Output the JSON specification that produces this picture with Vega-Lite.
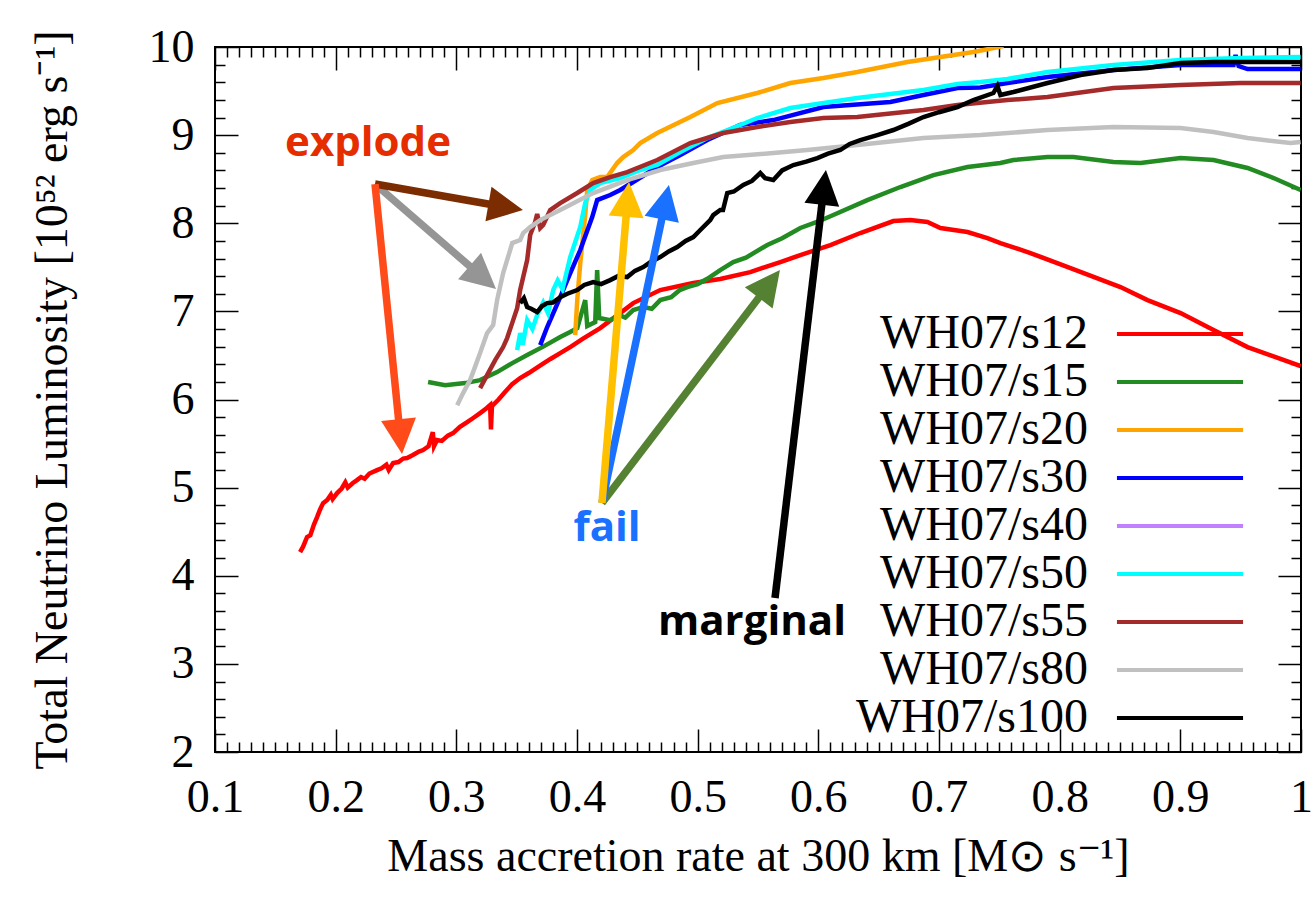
{
  "$schema": "https://vega.github.io/schema/vega-lite/v6.json",
  "width": 1086,
  "height": 705,
  "autosize": {"type": "none"},
  "padding": {"left": 215, "top": 47, "right": 15, "bottom": 149},
  "background": "white",
  "config": {"view": {"stroke": "black", "strokeWidth": 2}},
  "datasets": {
    "series": [
      {"s":"WH07/s12","x":0.1705,"y":4.268},{"s":"WH07/s12","x":0.173,"y":4.33},{"s":"WH07/s12","x":0.1763,"y":4.44},{"s":"WH07/s12","x":0.179,"y":4.46},{"s":"WH07/s12","x":0.182,"y":4.58},{"s":"WH07/s12","x":0.1846,"y":4.665},{"s":"WH07/s12","x":0.187,"y":4.75},{"s":"WH07/s12","x":0.1896,"y":4.824},{"s":"WH07/s12","x":0.193,"y":4.86},{"s":"WH07/s12","x":0.196,"y":4.92},{"s":"WH07/s12","x":0.1975,"y":4.87},{"s":"WH07/s12","x":0.2012,"y":4.938},{"s":"WH07/s12","x":0.205,"y":4.99},{"s":"WH07/s12","x":0.208,"y":5.06},{"s":"WH07/s12","x":0.21,"y":5.0},{"s":"WH07/s12","x":0.214,"y":5.05},{"s":"WH07/s12","x":0.2177,"y":5.085},{"s":"WH07/s12","x":0.221,"y":5.12},{"s":"WH07/s12","x":0.224,"y":5.1},{"s":"WH07/s12","x":0.228,"y":5.16},{"s":"WH07/s12","x":0.2343,"y":5.199},{"s":"WH07/s12","x":0.238,"y":5.22},{"s":"WH07/s12","x":0.242,"y":5.26},{"s":"WH07/s12","x":0.244,"y":5.2},{"s":"WH07/s12","x":0.2476,"y":5.278},{"s":"WH07/s12","x":0.252,"y":5.29},{"s":"WH07/s12","x":0.256,"y":5.33},{"s":"WH07/s12","x":0.2592,"y":5.335},{"s":"WH07/s12","x":0.264,"y":5.37},{"s":"WH07/s12","x":0.269,"y":5.41},{"s":"WH07/s12","x":0.2725,"y":5.426},{"s":"WH07/s12","x":0.277,"y":5.47},{"s":"WH07/s12","x":0.2805,"y":5.63},{"s":"WH07/s12","x":0.2815,"y":5.47},{"s":"WH07/s12","x":0.284,"y":5.54},{"s":"WH07/s12","x":0.288,"y":5.53},{"s":"WH07/s12","x":0.293,"y":5.59},{"s":"WH07/s12","x":0.2973,"y":5.619},{"s":"WH07/s12","x":0.303,"y":5.69},{"s":"WH07/s12","x":0.309,"y":5.743},{"s":"WH07/s12","x":0.314,"y":5.79},{"s":"WH07/s12","x":0.3197,"y":5.846},{"s":"WH07/s12","x":0.325,"y":5.9},{"s":"WH07/s12","x":0.328,"y":5.936},{"s":"WH07/s12","x":0.3287,"y":5.66},{"s":"WH07/s12","x":0.3295,"y":5.925},{"s":"WH07/s12","x":0.335,"y":6.0},{"s":"WH07/s12","x":0.34,"y":6.08},{"s":"WH07/s12","x":0.346,"y":6.17},{"s":"WH07/s12","x":0.3529,"y":6.243},{"s":"WH07/s12","x":0.36,"y":6.3},{"s":"WH07/s12","x":0.37,"y":6.39},{"s":"WH07/s12","x":0.378,"y":6.46},{"s":"WH07/s12","x":0.3861,"y":6.527},{"s":"WH07/s12","x":0.395,"y":6.6},{"s":"WH07/s12","x":0.405,"y":6.69},{"s":"WH07/s12","x":0.4192,"y":6.81},{"s":"WH07/s12","x":0.43,"y":6.92},{"s":"WH07/s12","x":0.4466,"y":7.094},{"s":"WH07/s12","x":0.469,"y":7.242},{"s":"WH07/s12","x":0.4964,"y":7.321},{"s":"WH07/s12","x":0.5187,"y":7.367},{"s":"WH07/s12","x":0.5436,"y":7.446},{"s":"WH07/s12","x":0.5685,"y":7.56},{"s":"WH07/s12","x":0.5851,"y":7.639},{"s":"WH07/s12","x":0.61,"y":7.753},{"s":"WH07/s12","x":0.6348,"y":7.889},{"s":"WH07/s12","x":0.6622,"y":8.025},{"s":"WH07/s12","x":0.6763,"y":8.036},{"s":"WH07/s12","x":0.6904,"y":8.014},{"s":"WH07/s12","x":0.7012,"y":7.946},{"s":"WH07/s12","x":0.7236,"y":7.9},{"s":"WH07/s12","x":0.7401,"y":7.832},{"s":"WH07/s12","x":0.7509,"y":7.775},{"s":"WH07/s12","x":0.7758,"y":7.662},{"s":"WH07/s12","x":0.809,"y":7.492},{"s":"WH07/s12","x":0.8504,"y":7.276},{"s":"WH07/s12","x":0.8728,"y":7.128},{"s":"WH07/s12","x":0.9002,"y":6.981},{"s":"WH07/s12","x":0.9275,"y":6.788},{"s":"WH07/s12","x":0.9557,"y":6.595},{"s":"WH07/s12","x":0.9997,"y":6.379},
      {"s":"WH07/s15","x":0.2766,"y":6.198},{"s":"WH07/s15","x":0.2907,"y":6.163},{"s":"WH07/s15","x":0.3073,"y":6.186},{"s":"WH07/s15","x":0.3197,"y":6.22},{"s":"WH07/s15","x":0.3338,"y":6.311},{"s":"WH07/s15","x":0.346,"y":6.41},{"s":"WH07/s15","x":0.3587,"y":6.504},{"s":"WH07/s15","x":0.372,"y":6.6},{"s":"WH07/s15","x":0.3861,"y":6.708},{"s":"WH07/s15","x":0.3935,"y":6.76},{"s":"WH07/s15","x":0.4002,"y":6.81},{"s":"WH07/s15","x":0.4068,"y":7.128},{"s":"WH07/s15","x":0.4085,"y":6.833},{"s":"WH07/s15","x":0.4151,"y":6.879},{"s":"WH07/s15","x":0.4167,"y":7.469},{"s":"WH07/s15","x":0.4184,"y":6.924},{"s":"WH07/s15","x":0.4275,"y":6.901},{"s":"WH07/s15","x":0.435,"y":6.96},{"s":"WH07/s15","x":0.44,"y":6.93},{"s":"WH07/s15","x":0.4466,"y":7.015},{"s":"WH07/s15","x":0.455,"y":7.05},{"s":"WH07/s15","x":0.462,"y":7.03},{"s":"WH07/s15","x":0.469,"y":7.128},{"s":"WH07/s15","x":0.478,"y":7.16},{"s":"WH07/s15","x":0.485,"y":7.24},{"s":"WH07/s15","x":0.4914,"y":7.276},{"s":"WH07/s15","x":0.5,"y":7.31},{"s":"WH07/s15","x":0.508,"y":7.37},{"s":"WH07/s15","x":0.5187,"y":7.469},{"s":"WH07/s15","x":0.5295,"y":7.56},{"s":"WH07/s15","x":0.54,"y":7.61},{"s":"WH07/s15","x":0.5577,"y":7.753},{"s":"WH07/s15","x":0.57,"y":7.83},{"s":"WH07/s15","x":0.5851,"y":7.946},{"s":"WH07/s15","x":0.6,"y":8.02},{"s":"WH07/s15","x":0.6124,"y":8.093},{"s":"WH07/s15","x":0.6406,"y":8.263},{"s":"WH07/s15","x":0.668,"y":8.411},{"s":"WH07/s15","x":0.6954,"y":8.547},{"s":"WH07/s15","x":0.7236,"y":8.638},{"s":"WH07/s15","x":0.7509,"y":8.683},{"s":"WH07/s15","x":0.7617,"y":8.717},{"s":"WH07/s15","x":0.7899,"y":8.751},{"s":"WH07/s15","x":0.8114,"y":8.751},{"s":"WH07/s15","x":0.8446,"y":8.695},{"s":"WH07/s15","x":0.867,"y":8.683},{"s":"WH07/s15","x":0.9002,"y":8.74},{"s":"WH07/s15","x":0.9275,"y":8.717},{"s":"WH07/s15","x":0.9557,"y":8.627},{"s":"WH07/s15","x":0.9773,"y":8.513},{"s":"WH07/s15","x":0.9997,"y":8.377},
      {"s":"WH07/s20","x":0.3985,"y":6.731},{"s":"WH07/s20","x":0.4002,"y":7.128},{"s":"WH07/s20","x":0.4027,"y":7.548},{"s":"WH07/s20","x":0.4068,"y":8.093},{"s":"WH07/s20","x":0.4085,"y":8.377},{"s":"WH07/s20","x":0.4126,"y":8.49},{"s":"WH07/s20","x":0.4192,"y":8.524},{"s":"WH07/s20","x":0.425,"y":8.524},{"s":"WH07/s20","x":0.4333,"y":8.683},{"s":"WH07/s20","x":0.4383,"y":8.751},{"s":"WH07/s20","x":0.4466,"y":8.831},{"s":"WH07/s20","x":0.4524,"y":8.91},{"s":"WH07/s20","x":0.4665,"y":9.024},{"s":"WH07/s20","x":0.4939,"y":9.205},{"s":"WH07/s20","x":0.5163,"y":9.364},{"s":"WH07/s20","x":0.5494,"y":9.478},{"s":"WH07/s20","x":0.5768,"y":9.591},{"s":"WH07/s20","x":0.6042,"y":9.648},{"s":"WH07/s20","x":0.6323,"y":9.716},{"s":"WH07/s20","x":0.6738,"y":9.83},{"s":"WH07/s20","x":0.7012,"y":9.886},{"s":"WH07/s20","x":0.7285,"y":9.943},{"s":"WH07/s20","x":0.7534,"y":10.01},
      {"s":"WH07/s30","x":0.3695,"y":6.617},{"s":"WH07/s30","x":0.3753,"y":6.822},{"s":"WH07/s30","x":0.3861,"y":7.162},{"s":"WH07/s30","x":0.3944,"y":7.435},{"s":"WH07/s30","x":0.4027,"y":7.696},{"s":"WH07/s30","x":0.4126,"y":8.07},{"s":"WH07/s30","x":0.4167,"y":8.263},{"s":"WH07/s30","x":0.4275,"y":8.32},{"s":"WH07/s30","x":0.4358,"y":8.377},{"s":"WH07/s30","x":0.4466,"y":8.468},{"s":"WH07/s30","x":0.4665,"y":8.638},{"s":"WH07/s30","x":0.4856,"y":8.774},{"s":"WH07/s30","x":0.508,"y":8.944},{"s":"WH07/s30","x":0.5353,"y":9.115},{"s":"WH07/s30","x":0.5627,"y":9.171},{"s":"WH07/s30","x":0.6042,"y":9.319},{"s":"WH07/s30","x":0.6597,"y":9.376},{"s":"WH07/s30","x":0.6871,"y":9.455},{"s":"WH07/s30","x":0.7153,"y":9.535},{"s":"WH07/s30","x":0.7343,"y":9.54},{"s":"WH07/s30","x":0.7567,"y":9.591},{"s":"WH07/s30","x":0.7899,"y":9.659},{"s":"WH07/s30","x":0.8446,"y":9.739},{"s":"WH07/s30","x":0.9002,"y":9.796},{"s":"WH07/s30","x":0.9441,"y":9.796},{"s":"WH07/s30","x":0.9458,"y":9.909},{"s":"WH07/s30","x":0.9483,"y":9.784},{"s":"WH07/s30","x":0.9557,"y":9.75},{"s":"WH07/s30","x":0.9997,"y":9.75},
      {"s":"WH07/s50","x":0.3504,"y":6.561},{"s":"WH07/s50","x":0.3529,"y":6.754},{"s":"WH07/s50","x":0.355,"y":6.62},{"s":"WH07/s50","x":0.3587,"y":6.901},{"s":"WH07/s50","x":0.363,"y":6.8},{"s":"WH07/s50","x":0.367,"y":6.958},{"s":"WH07/s50","x":0.372,"y":7.1},{"s":"WH07/s50","x":0.376,"y":6.98},{"s":"WH07/s50","x":0.3803,"y":7.242},{"s":"WH07/s50","x":0.384,"y":7.35},{"s":"WH07/s50","x":0.388,"y":7.25},{"s":"WH07/s50","x":0.3944,"y":7.616},{"s":"WH07/s50","x":0.4027,"y":7.957},{"s":"WH07/s50","x":0.4068,"y":8.229},{"s":"WH07/s50","x":0.4109,"y":8.377},{"s":"WH07/s50","x":0.4192,"y":8.456},{"s":"WH07/s50","x":0.4358,"y":8.513},{"s":"WH07/s50","x":0.4524,"y":8.604},{"s":"WH07/s50","x":0.4665,"y":8.661},{"s":"WH07/s50","x":0.4856,"y":8.808},{"s":"WH07/s50","x":0.508,"y":8.967},{"s":"WH07/s50","x":0.5353,"y":9.115},{"s":"WH07/s50","x":0.5494,"y":9.194},{"s":"WH07/s50","x":0.5768,"y":9.308},{"s":"WH07/s50","x":0.6323,"y":9.421},{"s":"WH07/s50","x":0.6871,"y":9.512},{"s":"WH07/s50","x":0.7153,"y":9.58},{"s":"WH07/s50","x":0.7343,"y":9.603},{"s":"WH07/s50","x":0.7567,"y":9.637},{"s":"WH07/s50","x":0.7899,"y":9.716},{"s":"WH07/s50","x":0.8446,"y":9.796},{"s":"WH07/s50","x":0.9002,"y":9.852},{"s":"WH07/s50","x":0.9499,"y":9.875},{"s":"WH07/s50","x":0.9997,"y":9.886},
      {"s":"WH07/s55","x":0.3197,"y":6.129},{"s":"WH07/s55","x":0.3255,"y":6.277},{"s":"WH07/s55","x":0.3322,"y":6.447},{"s":"WH07/s55","x":0.3388,"y":6.595},{"s":"WH07/s55","x":0.3421,"y":6.697},{"s":"WH07/s55","x":0.3471,"y":6.901},{"s":"WH07/s55","x":0.3504,"y":7.037},{"s":"WH07/s55","x":0.3529,"y":7.242},{"s":"WH07/s55","x":0.3587,"y":7.582},{"s":"WH07/s55","x":0.3612,"y":7.866},{"s":"WH07/s55","x":0.3653,"y":8.014},{"s":"WH07/s55","x":0.367,"y":8.104},{"s":"WH07/s55","x":0.3695,"y":7.946},{"s":"WH07/s55","x":0.372,"y":7.98},{"s":"WH07/s55","x":0.3778,"y":8.15},{"s":"WH07/s55","x":0.3861,"y":8.229},{"s":"WH07/s55","x":0.4002,"y":8.343},{"s":"WH07/s55","x":0.4134,"y":8.456},{"s":"WH07/s55","x":0.4275,"y":8.524},{"s":"WH07/s55","x":0.4416,"y":8.581},{"s":"WH07/s55","x":0.4665,"y":8.717},{"s":"WH07/s55","x":0.4939,"y":8.91},{"s":"WH07/s55","x":0.5212,"y":9.024},{"s":"WH07/s55","x":0.5494,"y":9.092},{"s":"WH07/s55","x":0.5768,"y":9.149},{"s":"WH07/s55","x":0.6042,"y":9.194},{"s":"WH07/s55","x":0.6323,"y":9.205},{"s":"WH07/s55","x":0.6871,"y":9.285},{"s":"WH07/s55","x":0.7153,"y":9.342},{"s":"WH07/s55","x":0.7567,"y":9.398},{"s":"WH07/s55","x":0.7899,"y":9.432},{"s":"WH07/s55","x":0.8446,"y":9.535},{"s":"WH07/s55","x":0.9002,"y":9.569},{"s":"WH07/s55","x":0.9499,"y":9.591},{"s":"WH07/s55","x":0.9997,"y":9.591},
      {"s":"WH07/s80","x":0.3007,"y":5.936},{"s":"WH07/s80","x":0.3056,"y":6.073},{"s":"WH07/s80","x":0.3114,"y":6.22},{"s":"WH07/s80","x":0.3139,"y":6.311},{"s":"WH07/s80","x":0.3197,"y":6.527},{"s":"WH07/s80","x":0.3255,"y":6.754},{"s":"WH07/s80","x":0.3305,"y":6.844},{"s":"WH07/s80","x":0.3338,"y":7.128},{"s":"WH07/s80","x":0.3388,"y":7.435},{"s":"WH07/s80","x":0.3446,"y":7.696},{"s":"WH07/s80","x":0.3463,"y":7.775},{"s":"WH07/s80","x":0.3529,"y":7.809},{"s":"WH07/s80","x":0.3554,"y":7.889},{"s":"WH07/s80","x":0.3612,"y":7.957},{"s":"WH07/s80","x":0.3695,"y":8.036},{"s":"WH07/s80","x":0.3861,"y":8.15},{"s":"WH07/s80","x":0.4134,"y":8.343},{"s":"WH07/s80","x":0.4416,"y":8.49},{"s":"WH07/s80","x":0.469,"y":8.604},{"s":"WH07/s80","x":0.4964,"y":8.683},{"s":"WH07/s80","x":0.5212,"y":8.751},{"s":"WH07/s80","x":0.5627,"y":8.797},{"s":"WH07/s80","x":0.5909,"y":8.831},{"s":"WH07/s80","x":0.6323,"y":8.888},{"s":"WH07/s80","x":0.6871,"y":8.967},{"s":"WH07/s80","x":0.7343,"y":9.001},{"s":"WH07/s80","x":0.7899,"y":9.058},{"s":"WH07/s80","x":0.8446,"y":9.092},{"s":"WH07/s80","x":0.9002,"y":9.081},{"s":"WH07/s80","x":0.9275,"y":9.035},{"s":"WH07/s80","x":0.9557,"y":8.967},{"s":"WH07/s80","x":0.9913,"y":8.91},{"s":"WH07/s80","x":0.9997,"y":8.922},
      {"s":"WH07/s100","x":0.3529,"y":7.094},{"s":"WH07/s100","x":0.356,"y":7.15},{"s":"WH07/s100","x":0.3587,"y":7.049},{"s":"WH07/s100","x":0.362,"y":7.03},{"s":"WH07/s100","x":0.367,"y":6.992},{"s":"WH07/s100","x":0.371,"y":7.06},{"s":"WH07/s100","x":0.3753,"y":7.094},{"s":"WH07/s100","x":0.38,"y":7.1},{"s":"WH07/s100","x":0.3861,"y":7.162},{"s":"WH07/s100","x":0.392,"y":7.2},{"s":"WH07/s100","x":0.4002,"y":7.242},{"s":"WH07/s100","x":0.406,"y":7.3},{"s":"WH07/s100","x":0.4134,"y":7.333},{"s":"WH07/s100","x":0.42,"y":7.31},{"s":"WH07/s100","x":0.4275,"y":7.355},{"s":"WH07/s100","x":0.434,"y":7.4},{"s":"WH07/s100","x":0.4416,"y":7.389},{"s":"WH07/s100","x":0.448,"y":7.46},{"s":"WH07/s100","x":0.4549,"y":7.503},{"s":"WH07/s100","x":0.461,"y":7.56},{"s":"WH07/s100","x":0.469,"y":7.616},{"s":"WH07/s100","x":0.476,"y":7.68},{"s":"WH07/s100","x":0.4831,"y":7.73},{"s":"WH07/s100","x":0.49,"y":7.8},{"s":"WH07/s100","x":0.4964,"y":7.843},{"s":"WH07/s100","x":0.5022,"y":7.923},{"s":"WH07/s100","x":0.5104,"y":8.036},{"s":"WH07/s100","x":0.5129,"y":8.093},{"s":"WH07/s100","x":0.5187,"y":8.15},{"s":"WH07/s100","x":0.521,"y":8.15},{"s":"WH07/s100","x":0.5245,"y":8.343},{"s":"WH07/s100","x":0.53,"y":8.36},{"s":"WH07/s100","x":0.5378,"y":8.434},{"s":"WH07/s100","x":0.545,"y":8.48},{"s":"WH07/s100","x":0.5519,"y":8.57},{"s":"WH07/s100","x":0.556,"y":8.51},{"s":"WH07/s100","x":0.5627,"y":8.49},{"s":"WH07/s100","x":0.57,"y":8.6},{"s":"WH07/s100","x":0.5793,"y":8.661},{"s":"WH07/s100","x":0.59,"y":8.7},{"s":"WH07/s100","x":0.5992,"y":8.74},{"s":"WH07/s100","x":0.608,"y":8.79},{"s":"WH07/s100","x":0.6182,"y":8.831},{"s":"WH07/s100","x":0.626,"y":8.9},{"s":"WH07/s100","x":0.6348,"y":8.944},{"s":"WH07/s100","x":0.6489,"y":9.001},{"s":"WH07/s100","x":0.6622,"y":9.058},{"s":"WH07/s100","x":0.675,"y":9.13},{"s":"WH07/s100","x":0.6871,"y":9.205},{"s":"WH07/s100","x":0.7,"y":9.26},{"s":"WH07/s100","x":0.7153,"y":9.319},{"s":"WH07/s100","x":0.7285,"y":9.398},{"s":"WH07/s100","x":0.7451,"y":9.478},{"s":"WH07/s100","x":0.7484,"y":9.557},{"s":"WH07/s100","x":0.7509,"y":9.455},{"s":"WH07/s100","x":0.7617,"y":9.489},{"s":"WH07/s100","x":0.7899,"y":9.591},{"s":"WH07/s100","x":0.8173,"y":9.682},{"s":"WH07/s100","x":0.8446,"y":9.739},{"s":"WH07/s100","x":0.8728,"y":9.762},{"s":"WH07/s100","x":0.9002,"y":9.818},{"s":"WH07/s100","x":0.9275,"y":9.83},{"s":"WH07/s100","x":0.9997,"y":9.83}
    ],
    "arrows": [
      {"name":"explodeGray","x0":0.2326,"y0":8.445,"x1":0.3329,"y1":7.254},
      {"name":"explodeBrown","x0":0.2326,"y0":8.445,"x1":0.3552,"y1":8.15},
      {"name":"explodeRed","x0":0.2326,"y0":8.445,"x1":0.255,"y1":5.382},
      {"name":"failGreen","x0":0.4207,"y0":4.826,"x1":0.5682,"y1":7.47},
      {"name":"failBlue","x0":0.4207,"y0":4.826,"x1":0.4762,"y1":8.434},
      {"name":"failYellow","x0":0.4207,"y0":4.826,"x1":0.4431,"y1":8.468},
      {"name":"marginal","x0":0.5641,"y0":3.747,"x1":0.6063,"y1":8.604}
    ],
    "notes": [
      {"t":"explode","x":0.2268,"y":8.911},
      {"t":"fail","x":0.4249,"y":4.542},
      {"t":"marginal","x":0.545,"y":3.475}
    ]
  },
  "resolve": {"scale": {"color": "independent"}, "axis": {"x": "independent", "y": "independent"}},
  "layer": [
    {
      "data": {"name": "series"},
      "mark": {"type": "line", "strokeWidth": 4.5, "clip": true},
      "encoding": {
        "x": {"field": "x", "type": "quantitative", "scale": {"domain": [0.1, 1], "nice": false, "zero": false},
          "axis": {"orient": "bottom", "values": [0.1,0.2,0.3,0.4,0.5,0.6,0.7,0.8,0.9,1], "format": "~g", "domain": false, "grid": false,
            "tickSize": -23, "tickWidth": 1.5, "tickColor": "#000", "labelFont": "Liberation Serif", "labelFontSize": 46, "labelColor": "#000",
            "labelPadding": 46, "labelFlush": false, "labelOverlap": false,
            "title": "Mass accretion rate at 300 km [M⊙ s⁻¹]", "titleFont": "Liberation Serif", "titleFontSize": 46, "titleFontWeight": "normal", "titleColor": "#000", "titlePadding": 14}},
        "y": {"field": "y", "type": "quantitative", "scale": {"domain": [2, 10], "nice": false, "zero": false},
          "axis": {"orient": "left", "values": [2,3,4,5,6,7,8,9,10], "format": "d", "domain": false, "grid": false,
            "tickSize": -23, "tickWidth": 1.5, "tickColor": "#000", "labelFont": "Liberation Serif", "labelFontSize": 46, "labelColor": "#000",
            "labelPadding": 44, "labelFlush": false, "labelOverlap": false,
            "title": "Total Neutrino Luminosity [10⁵² erg s⁻¹]", "titleFont": "Liberation Serif", "titleFontSize": 46, "titleFontWeight": "normal", "titleColor": "#000", "titlePadding": 72}},
        "color": {"field": "s", "type": "nominal",
          "scale": {"domain": ["WH07/s12","WH07/s15","WH07/s20","WH07/s30","WH07/s40","WH07/s50","WH07/s55","WH07/s80","WH07/s100"],
                    "range": ["#ff0000","#228b22","#ffa500","#0000ff","#c080ff","#00ffff","#a52a2a","#c0c0c0","#000000"]},
          "legend": {"orient": "none", "legendX": 941, "legendY": 263, "title": null, "padding": 0,
            "symbolType": "M-10,0H10", "symbolSize": 159, "symbolStrokeWidth": 4, "rowPadding": 0,
            "labelFont": "Liberation Serif", "labelFontSize": 48, "labelColor": "#000", "labelAlign": "right", "labelBaseline": "middle",
            "labelOffset": -116, "labelLimit": 400}}
      }
    },
    {
      "data": {"name": "arrows"},
      "transform": [
        {"calculate": "(datum.x1-datum.x0)*1206.7", "as": "dxp"},
        {"calculate": "(datum.y1-datum.y0)*88.125", "as": "dyp"},
        {"calculate": "sqrt(datum.dxp*datum.dxp+datum.dyp*datum.dyp)", "as": "len"},
        {"calculate": "datum.x1-(datum.x1-datum.x0)*28/datum.len", "as": "ex"},
        {"calculate": "datum.y1-(datum.y1-datum.y0)*28/datum.len", "as": "ey"}
      ],
      "mark": {"type": "rule", "strokeWidth": 7.5},
      "encoding": {
        "x": {"field": "x0", "type": "quantitative", "scale": {"domain": [0.1, 1], "nice": false, "zero": false},
          "axis": {"orient": "bottom", "values": [0.11,0.12,0.13,0.14,0.15,0.16,0.17,0.18,0.19,0.21,0.22,0.23,0.24,0.25,0.26,0.27,0.28,0.29,0.31,0.32,0.33,0.34,0.35,0.36,0.37,0.38,0.39,0.41,0.42,0.43,0.44,0.45,0.46,0.47,0.48,0.49,0.51,0.52,0.53,0.54,0.55,0.56,0.57,0.58,0.59,0.61,0.62,0.63,0.64,0.65,0.66,0.67,0.68,0.69,0.71,0.72,0.73,0.74,0.75,0.76,0.77,0.78,0.79,0.81,0.82,0.83,0.84,0.85,0.86,0.87,0.88,0.89,0.91,0.92,0.93,0.94,0.95,0.96,0.97,0.98,0.99],
            "domain": false, "grid": false, "labels": false, "tickSize": -10, "tickWidth": 1.5, "tickColor": "#000", "title": null}},
        "y": {"field": "y0", "type": "quantitative", "scale": {"domain": [2, 10], "nice": false, "zero": false},
          "axis": {"orient": "left", "values": [2.2,2.4,2.6,2.8,3.2,3.4,3.6,3.8,4.2,4.4,4.6,4.8,5.2,5.4,5.6,5.8,6.2,6.4,6.6,6.8,7.2,7.4,7.6,7.8,8.2,8.4,8.6,8.8,9.2,9.4,9.6,9.8],
            "domain": false, "grid": false, "labels": false, "tickSize": -10, "tickWidth": 1.5, "tickColor": "#000", "title": null}},
        "x2": {"field": "ex"},
        "y2": {"field": "ey"},
        "color": {"field": "name", "type": "nominal", "legend": null,
          "scale": {"domain": ["explodeGray","explodeBrown","explodeRed","failGreen","failBlue","failYellow","marginal"],
                    "range": ["#959595","#7b2c00","#ff4b19","#558133","#1a70ff","#ffc000","#000000"]}}
      }
    },
    {
      "data": {"name": "arrows"},
      "transform": [
        {"calculate": "atan2((datum.x1-datum.x0)*1206.7, (datum.y1-datum.y0)*88.125)*180/PI", "as": "ang"}
      ],
      "mark": {"type": "point", "filled": true, "opacity": 1, "strokeWidth": 0, "shape": "M0,0L-0.5,1L0.5,1Z", "size": 4900},
      "encoding": {
        "x": {"field": "x1", "type": "quantitative", "scale": {"domain": [0.1, 1], "nice": false, "zero": false},
          "axis": {"orient": "top", "values": [0.1,0.2,0.3,0.4,0.5,0.6,0.7,0.8,0.9,1], "domain": false, "grid": false, "labels": false,
            "tickSize": -23, "tickWidth": 1.5, "tickColor": "#000", "title": null}},
        "y": {"field": "y1", "type": "quantitative", "scale": {"domain": [2, 10], "nice": false, "zero": false},
          "axis": {"orient": "right", "values": [2,3,4,5,6,7,8,9,10], "domain": false, "grid": false, "labels": false,
            "tickSize": -23, "tickWidth": 1.5, "tickColor": "#000", "title": null}},
        "angle": {"field": "ang", "type": "quantitative", "scale": null},
        "color": {"field": "name", "type": "nominal", "legend": null,
          "scale": {"domain": ["explodeGray","explodeBrown","explodeRed","failGreen","failBlue","failYellow","marginal"],
                    "range": ["#959595","#7b2c00","#ff4b19","#558133","#1a70ff","#ffc000","#000000"]}}
      }
    },
    {
      "data": {"name": "notes"},
      "mark": {"type": "text", "font": "Open Sans", "fontWeight": "bold", "fontSize": 42, "align": "center", "baseline": "middle"},
      "encoding": {
        "x": {"field": "x", "type": "quantitative", "scale": {"domain": [0.1, 1], "nice": false, "zero": false},
          "axis": {"orient": "top", "values": [0.11,0.12,0.13,0.14,0.15,0.16,0.17,0.18,0.19,0.21,0.22,0.23,0.24,0.25,0.26,0.27,0.28,0.29,0.31,0.32,0.33,0.34,0.35,0.36,0.37,0.38,0.39,0.41,0.42,0.43,0.44,0.45,0.46,0.47,0.48,0.49,0.51,0.52,0.53,0.54,0.55,0.56,0.57,0.58,0.59,0.61,0.62,0.63,0.64,0.65,0.66,0.67,0.68,0.69,0.71,0.72,0.73,0.74,0.75,0.76,0.77,0.78,0.79,0.81,0.82,0.83,0.84,0.85,0.86,0.87,0.88,0.89,0.91,0.92,0.93,0.94,0.95,0.96,0.97,0.98,0.99],
            "domain": false, "grid": false, "labels": false, "tickSize": -10, "tickWidth": 1.5, "tickColor": "#000", "title": null}},
        "y": {"field": "y", "type": "quantitative", "scale": {"domain": [2, 10], "nice": false, "zero": false},
          "axis": {"orient": "right", "values": [2.2,2.4,2.6,2.8,3.2,3.4,3.6,3.8,4.2,4.4,4.6,4.8,5.2,5.4,5.6,5.8,6.2,6.4,6.6,6.8,7.2,7.4,7.6,7.8,8.2,8.4,8.6,8.8,9.2,9.4,9.6,9.8],
            "domain": false, "grid": false, "labels": false, "tickSize": -10, "tickWidth": 1.5, "tickColor": "#000", "title": null}},
        "text": {"field": "t"},
        "color": {"field": "t", "type": "nominal", "legend": null,
          "scale": {"domain": ["explode","fail","marginal"], "range": ["#e52d00","#1a70ff","#000000"]}}
      }
    }
  ]
}
